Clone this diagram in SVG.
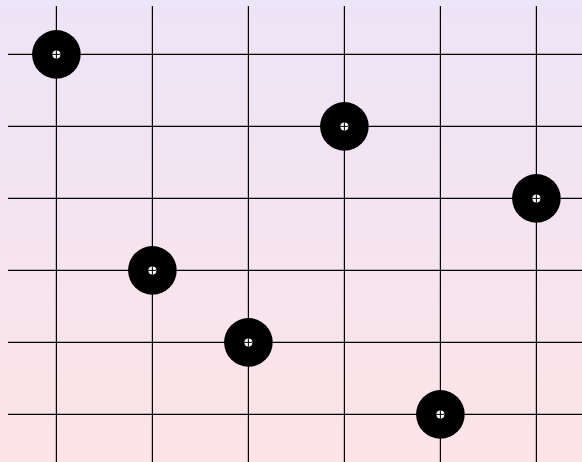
<svg xmlns="http://www.w3.org/2000/svg" width="582" height="462" viewBox="0 0 582 462">
<defs>
<linearGradient id="bg" x1="0" y1="0" x2="0" y2="1">
<stop offset="0" stop-color="#ece4f7"/>
<stop offset="1" stop-color="#fde4e7"/>
</linearGradient>
<style>
.g{stroke:#000;stroke-width:1.2;fill:none}
.stone{fill:#000}
.eye{fill:#fff}
.x{stroke:#000;stroke-width:1}
</style>
</defs>
<rect width="582" height="462" fill="url(#bg)"/>
<g id="connectors" class="g">
<path d="M56.4 6V462M152.4 6V462M248.4 6V462M344.4 6V462M440.4 6V462M536.4 6V462"/>
<path d="M8 54.4H582M8 126.4H582M8 198.4H582M8 270.4H582M8 342.4H582M8 414.4H582"/>
</g>
<g id="n1" transform="translate(56.4,54.4)"><circle class="stone" r="24.3"/><circle class="eye" r="4"/><path class="x" d="M-4 0H4M0 -4V4"/></g>
<g id="n2" transform="translate(344.4,126.4)"><circle class="stone" r="24.3"/><circle class="eye" r="4"/><path class="x" d="M-4 0H4M0 -4V4"/></g>
<g id="n3" transform="translate(536.4,198.4)"><circle class="stone" r="24.3"/><circle class="eye" r="4"/><path class="x" d="M-4 0H4M0 -4V4"/></g>
<g id="n4" transform="translate(152.4,270.4)"><circle class="stone" r="24.3"/><circle class="eye" r="4"/><path class="x" d="M-4 0H4M0 -4V4"/></g>
<g id="n5" transform="translate(248.4,342.4)"><circle class="stone" r="24.3"/><circle class="eye" r="4"/><path class="x" d="M-4 0H4M0 -4V4"/></g>
<g id="n6" transform="translate(440.4,414.4)"><circle class="stone" r="24.3"/><circle class="eye" r="4"/><path class="x" d="M-4 0H4M0 -4V4"/></g>
</svg>
